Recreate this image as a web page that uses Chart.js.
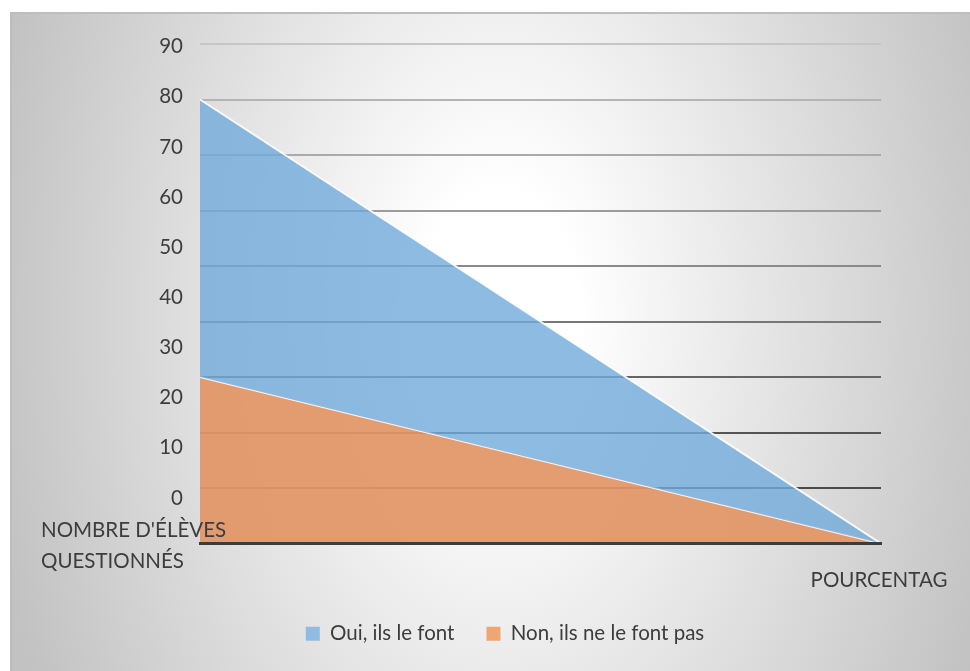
<!DOCTYPE html>
<html>
<head>
<meta charset="utf-8">
<title>Élèves questionnés</title>
<script src="https://cdn.jsdelivr.net/npm/chart.js@4.4.1/dist/chart.umd.min.js"></script>
<style>
  html, body { margin: 0; padding: 0; background: #ffffff; width: 970px; height: 671px; overflow: hidden; }
  #frame {
    position: absolute; left: 10px; top: 12px; width: 960px; height: 659px;
    background: radial-gradient(ellipse 520px 820px at 490px 300px, #ffffff 0%, #ffffff 15%, #c2c2c2 100%);
    box-shadow: inset 2px 2px 0 #bdbdbd;
  }
  #chart { position: absolute; left: 0; top: 0; }
</style>
</head>
<body>
<div id="frame"><canvas id="chart" width="960" height="659"></canvas></div>
<script>
// Categories (each entry is the list of text lines of the label)
const categories = [["NOMBRE D'ÉLÈVES", "QUESTIONNÉS"], ["POURCENTAG"]];
const seriesNames = ["Oui, ils le font", "Non, ils ne le font pas"];
const ouiValues = [80, 0];
const nonValues = [30, 0];
// Labels printed along the value axis
const yTickLabels = [0, 10, 20, 30, 40, 50, 60, 70, 80, 90];

const FONT = 'Lato';
const FONT_SIZE = 20.5;
const TEXT = '#3d3d3d';

// Horizontal rule shades, light at the top and darker towards the base
const ruleShade = {
  90: '#c6c6c6', 80: '#b4b4b4', 70: '#aaaaaa', 60: '#9c9c9c', 50: '#8a8a8a',
  40: '#777777', 30: '#656565', 20: '#555555', 10: '#4a4a4a', 0: 'rgba(0,0,0,0)'
};
const legendFill = ['#8fbce0', '#f0a672'];

// Category names under the horizontal axis
const categoryLabels = {
  id: 'categoryLabels',
  afterDraw(chart) {
    const { ctx, scales: { x } } = chart;
    ctx.save();
    ctx.font = `${FONT_SIZE}px ${FONT}`;
    ctx.fillStyle = TEXT;
    ctx.textBaseline = 'middle';
    const x0 = x.getPixelForValue(0);
    ctx.textAlign = 'left';
    categories[0].forEach((line, i) => ctx.fillText(line, x0 - 159, x.top - 13 + i * 31));
    const x1 = x.getPixelForValue(1);
    ctx.textAlign = 'center';
    categories[1].forEach((line, i) => ctx.fillText(line, x1 - 2, x.top + 37 + i * 31));
    ctx.restore();
  }
};

Chart.defaults.font.family = FONT;

new Chart(document.getElementById('chart'), {
  type: 'line',
  data: {
    labels: categories,
    datasets: [
      {
        label: seriesNames[0],
        data: ouiValues,
        fill: 1,
        backgroundColor: 'rgba(112,170,219,0.80)',
        borderColor: 'rgba(255,255,255,0.9)',
        borderWidth: 2,
        pointRadius: 0,
        tension: 0
      },
      {
        label: seriesNames[1],
        data: nonValues,
        fill: 'origin',
        backgroundColor: 'rgba(226,148,102,0.93)',
        borderColor: 'rgba(255,255,255,0.9)',
        borderWidth: 2,
        pointRadius: 0,
        tension: 0
      }
    ]
  },
  options: {
    responsive: false,
    animation: false,
    devicePixelRatio: 1,
    events: [],
    layout: { padding: { left: 119, right: 89, top: 32, bottom: 17 } },
    scales: {
      x: {
        type: 'category',
        offset: false,
        grid: { display: false, drawTicks: false },
        ticks: { display: false },
        border: { display: true, color: '#3c3c3c', width: 3, z: 1 },
        afterFit: s => { s.height = 48; }
      },
      y: {
        position: 'left',
        min: 0,
        max: 90,
        ticks: { display: false, stepSize: 10 },
        grid: {
          drawTicks: false,
          lineWidth: 2,
          color: c => ruleShade[c.tick ? c.tick.value : 0] || '#999999'
        },
        border: { display: false },
        afterFit: s => { s.width = 0; }
      },
      y2: {
        position: 'left',
        min: -9.09,
        max: 90.54,
        afterBuildTicks: s => { s.ticks = yTickLabels.map(v => ({ value: v })); },
        ticks: { color: TEXT, font: { family: FONT, size: FONT_SIZE }, padding: 17 },
        grid: { display: false, drawTicks: false },
        border: { display: false },
        afterFit: s => { s.width = 71; }
      }
    },
    plugins: {
      tooltip: { enabled: false },
      legend: {
        position: 'bottom',
        labels: {
          color: TEXT,
          font: { family: FONT, size: FONT_SIZE },
          boxWidth: 14,
          boxHeight: 14,
          padding: 32,
          generateLabels: chart =>
            Chart.defaults.plugins.legend.labels.generateLabels(chart).map((item, i) => ({
              ...item, fillStyle: legendFill[i], strokeStyle: legendFill[i], lineWidth: 0
            }))
        }
      }
    }
  },
  plugins: [categoryLabels]
});
</script>
</body>
</html>
